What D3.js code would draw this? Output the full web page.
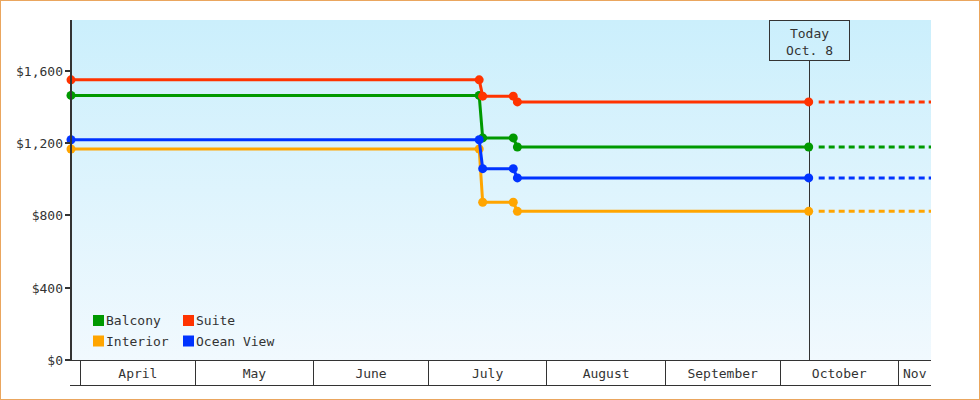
<!DOCTYPE html>
<html>
<head>
<meta charset="utf-8">
<script src="https://cdnjs.cloudflare.com/ajax/libs/d3/7.8.5/d3.min.js"></script>
<style>
    body { margin: 0; background: #fff; }
    svg { display: block; }
    text { font-family: "DejaVu Sans Mono", monospace; font-size: 13px; fill: #333; }
</style>
</head>
<body>
<div id="chart"></div>
<script>
// dates where the fare changed (first one is the chart start)
const dates = ["2015-03-29T12:00Z", "2015-07-14T07:00Z", "2015-07-15T05:00Z", "2015-07-23T05:00Z", "2015-07-24T07:00Z", "2015-10-08T12:00Z"];
const seriesNames = ["Balcony", "Interior", "Suite", "Ocean View"];
const balcony = [1463, 1463, 1228, 1228, 1178, 1178];
const interior = [1167, 1167, 872, 872, 822, 822];
const suite = [1549, 1549, 1459, 1459, 1427, 1427];
const oceanView = [1218, 1218, 1058, 1058, 1007, 1007];
const seriesColors = ["#009900", "#ffa500", "#ff3300", "#0033ff"];
const yTicks = [0, 400, 800, 1200, 1600];
const monthStarts = ["2015-04-01", "2015-05-01", "2015-06-01", "2015-07-01", "2015-08-01", "2015-09-01", "2015-10-01", "2015-11-01", "2015-12-01"];
const monthLabels = ["April", "May", "June", "July", "August", "September", "October", "Nov"];
const todayDate = "2015-10-08T12:00Z";
const todayLabel = ["Today", "Oct. 8"];
const xDomain = ["2015-03-29T12:00Z", "2015-11-09T12:00Z"];
const yMax = 1880;

let config = {
    width: 980,
    height: 400,
    left: 71,
    right: 931,
    top: 20,
    bottom: 360,
    bandHeight: 25
};

let allValues = [balcony, interior, suite, oceanView];
let series = seriesNames.map((name, i) => ({
    name: name,
    color: seriesColors[i],
    points: dates.map((d, j) => ({date: new Date(d), value: allValues[i][j]}))
}));

let svg = d3.select("#chart").append("svg")
    .attr("width", config.width)
    .attr("height", config.height);

let x = d3.scaleUtc()
    .domain(xDomain.map((d) => new Date(d)))
    .range([config.left, config.right]);

let y = d3.scaleLinear()
    .domain([0, yMax])
    .range([config.bottom, config.top]);

// background gradient
let grad = svg.append("defs").append("linearGradient")
    .attr("id", "bg")
    .attr("x1", 0).attr("y1", 0).attr("x2", 0).attr("y2", 1);
grad.append("stop").attr("offset", "0%").attr("stop-color", "#cbeffc");
grad.append("stop").attr("offset", "100%").attr("stop-color", "#f1f9fe");

svg.append("rect")
    .attr("x", config.left)
    .attr("y", config.top)
    .attr("width", config.right - config.left)
    .attr("height", config.bottom - config.top)
    .attr("fill", "url(#bg)");

// today marker
let today = new Date(todayDate);
let tx = Math.round(x(today)) + 0.5;
svg.append("line")
    .attr("x1", tx).attr("x2", tx)
    .attr("y1", config.top + 40).attr("y2", config.bottom)
    .attr("stroke", "#333")
    .attr("stroke-width", 1);
svg.append("rect")
    .attr("x", tx - 40).attr("y", config.top + 0.5)
    .attr("width", 80).attr("height", 40)
    .attr("fill", "none")
    .attr("stroke", "#333");
svg.selectAll(".today-label")
    .data(todayLabel)
    .enter().append("text")
    .attr("class", "today-label")
    .attr("x", tx)
    .attr("y", (d, i) => config.top + 13 + i * 17)
    .attr("dy", "0.35em")
    .attr("text-anchor", "middle")
    .text((d) => d);

// lines
let line = d3.line()
    .x((d) => x(d.date))
    .y((d) => y(d.value));

let dash = [0, 10];
for (let k = 0; k < 20; k++) dash.push(6, 4);

let drawOrder = [0, 2, 1, 3];
drawOrder.forEach((i) => {
    let s = series[i];
    let g = svg.append("g");
    let last = s.points[s.points.length - 1];
    g.append("path")
        .datum([last, {date: x.domain()[1], value: last.value}])
        .attr("d", line)
        .attr("fill", "none")
        .attr("stroke", s.color)
        .attr("stroke-width", 3)
        .attr("stroke-dasharray", dash.join(","));
    g.append("path")
        .datum(s.points)
        .attr("d", line)
        .attr("fill", "none")
        .attr("stroke", s.color)
        .attr("stroke-width", 3);
    g.selectAll("circle")
        .data(s.points)
        .enter().append("circle")
        .attr("cx", (d) => x(d.date))
        .attr("cy", (d) => y(d.value))
        .attr("r", 4.5)
        .attr("fill", s.color);
});

// y axis
svg.append("line")
    .attr("x1", config.left).attr("x2", config.left)
    .attr("y1", config.top).attr("y2", config.bottom + 1)
    .attr("stroke", "#333")
    .attr("stroke-width", 2);
let yt = svg.selectAll(".ytick")
    .data(yTicks)
    .enter().append("g")
    .attr("class", "ytick")
    .attr("transform", (d) => `translate(0,${Math.round(y(d))})`);
yt.append("line")
    .attr("x1", config.left - 6).attr("x2", config.left)
    .attr("stroke", "#333")
    .attr("stroke-width", 2);
yt.append("text")
    .attr("x", config.left - 8)
    .attr("dy", "0.35em")
    .attr("text-anchor", "end")
    .text((d) => d3.format("$,")(d));

// month band axis
let by0 = config.bottom + 0.5;
let by1 = config.bottom + config.bandHeight + 0.5;
svg.append("line")
    .attr("x1", config.left - 1).attr("x2", config.right)
    .attr("y1", by0).attr("y2", by0)
    .attr("stroke", "#333");
svg.append("line")
    .attr("x1", config.left - 1).attr("x2", config.right)
    .attr("y1", by1).attr("y2", by1)
    .attr("stroke", "#333");

let months = monthLabels.map((label, i) => ({
    label: label,
    start: new Date(monthStarts[i]),
    end: new Date(monthStarts[i + 1])
}));
svg.selectAll(".msep")
    .data(months)
    .enter().append("line")
    .attr("class", "msep")
    .attr("x1", (d) => Math.floor(x(d.start)) + 0.5)
    .attr("x2", (d) => Math.floor(x(d.start)) + 0.5)
    .attr("y1", by0).attr("y2", by1)
    .attr("stroke", "#333");
svg.selectAll(".mlabel")
    .data(months)
    .enter().append("text")
    .attr("class", "mlabel")
    .attr("x", (d) => (x(d.start) + Math.min(x(d.end), config.right)) / 2)
    .attr("y", (by0 + by1) / 2)
    .attr("dy", "0.35em")
    .attr("text-anchor", "middle")
    .text((d) => d.label);

// legend
let legend = svg.append("g")
    .attr("transform", "translate(93,315)");
let li = legend.selectAll("g")
    .data(series)
    .enter().append("g")
    .attr("transform", (d, i) => `translate(${Math.floor(i / 2) * 90},${(i % 2) * 20.5})`);
li.append("rect")
    .attr("width", 11).attr("height", 11)
    .attr("fill", (d) => d.color);
li.append("text")
    .attr("x", 13)
    .attr("y", 5.5)
    .attr("dy", "0.35em")
    .text((d) => d.name);

// outer frame
svg.append("rect")
    .attr("x", 0.5).attr("y", 0.5)
    .attr("width", config.width - 1).attr("height", config.height - 1)
    .attr("fill", "none")
    .attr("stroke", "#eaa65e");
</script>
</body>
</html>
